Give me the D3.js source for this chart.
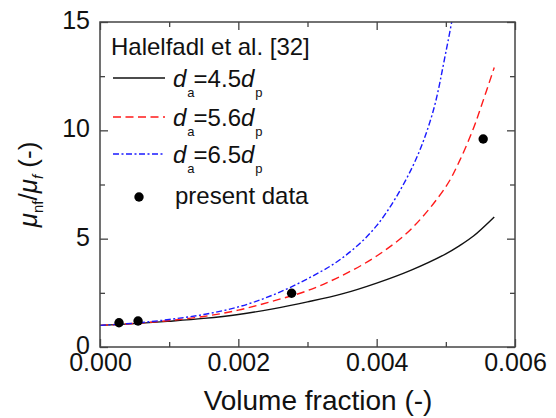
<!DOCTYPE html>
<html>
<head>
<meta charset="utf-8">
<script src="https://cdn.jsdelivr.net/npm/d3@7"></script>
<style>
  body { margin: 0; background: #fff; }
  svg { font-family: "Liberation Sans", Arial, sans-serif; }
</style>
</head>
<body>
<svg width="556" height="418"></svg>
<script>
// values
var blackPhi = [0, 0.0005, 0.001, 0.0015, 0.002, 0.0025, 0.003, 0.0035, 0.004, 0.0045, 0.005, 0.0052, 0.0054, 0.0057];
var blackMu  = [1.0, 1.08, 1.19, 1.32, 1.5, 1.76, 2.08, 2.45, 2.95, 3.55, 4.3, 4.68, 5.12, 6.0];
var redPhi = [0, 0.0005, 0.001, 0.0015, 0.002, 0.0025, 0.003, 0.0035, 0.004, 0.0045, 0.005, 0.0052, 0.0054, 0.0055, 0.0057];
var redMu  = [1.0, 1.09, 1.22, 1.41, 1.7, 2.12, 2.6, 3.3, 4.2, 5.45, 7.4, 8.6, 10.1, 11.0, 12.9];
var bluePhi = [0, 0.0005, 0.001, 0.0015, 0.002, 0.0025, 0.003, 0.0035, 0.004, 0.0045, 0.0048, 0.005, 0.0052];
var blueMu  = [1.0, 1.1, 1.27, 1.5, 1.85, 2.4, 3.15, 4.1, 5.6, 8.2, 10.7, 13.6, 17.0];
var dataPhi = [0.000275, 0.00055, 0.00277, 0.00554];
var dataMu  = [1.12, 1.2, 2.48, 9.6];
var xMajor = [0, 0.002, 0.004, 0.006];
var xMinor = [0.001, 0.003, 0.005];
var yMajor = [0, 5, 10, 15];
var yMinor = [2.5, 7.5, 12.5];

var margin = {top: 22, right: 41, bottom: 71, left: 100};
var width = 556 - margin.left - margin.right;
var height = 418 - margin.top - margin.bottom;

var svg = d3.select('svg');
var g = svg.append('g')
  .attr('transform', 'translate(' + margin.left + ',' + margin.top + ')');

var x = d3.scaleLinear().domain([0, 0.006]).range([0, width]);
var y = d3.scaleLinear().domain([0, 15]).range([height, 0]);

svg.append('defs').append('clipPath').attr('id', 'plotclip')
  .append('rect').attr('width', width).attr('height', height);

// axes, ticks pointing inward
function styleAxis(sel) {
  sel.select('.domain').remove();
  sel.selectAll('.tick line').attr('stroke', '#444').attr('stroke-width', 1.3);
}
g.append('g').attr('transform', 'translate(0,' + height + ')')
  .call(d3.axisBottom(x).tickValues(xMajor).tickSize(-8).tickPadding(6).tickFormat(d3.format('.3f')))
  .call(styleAxis);
g.append('g').attr('transform', 'translate(0,' + height + ')')
  .call(d3.axisBottom(x).tickValues(xMinor).tickSize(-5).tickFormat(''))
  .call(styleAxis);
g.append('g')
  .call(d3.axisTop(x).tickValues(xMajor).tickSize(-8).tickFormat(''))
  .call(styleAxis);
g.append('g')
  .call(d3.axisTop(x).tickValues(xMinor).tickSize(-5).tickFormat(''))
  .call(styleAxis);
g.append('g').attr('class', 'yaxis')
  .call(d3.axisLeft(y).tickValues(yMajor).tickSize(-8).tickPadding(10))
  .call(styleAxis);
g.append('g')
  .call(d3.axisLeft(y).tickValues(yMinor).tickSize(-5).tickFormat(''))
  .call(styleAxis);
g.append('g').attr('transform', 'translate(' + width + ',0)')
  .call(d3.axisRight(y).tickValues(yMajor).tickSize(-8).tickFormat(''))
  .call(styleAxis);
g.append('g').attr('transform', 'translate(' + width + ',0)')
  .call(d3.axisRight(y).tickValues(yMinor).tickSize(-5).tickFormat(''))
  .call(styleAxis);
g.selectAll('.tick text').attr('font-size', 25).attr('fill', '#111');
g.selectAll('.yaxis .tick text').attr('dy', '0.26em');

// curves
var line = d3.line()
  .x(function(d) { return x(d[0]); })
  .y(function(d) { return y(d[1]); })
  .curve(d3.curveCatmullRom.alpha(0.5));
var series = [
  {phi: blackPhi, mu: blackMu, color: '#111', dash: null},
  {phi: redPhi, mu: redMu, color: '#ff1a1a', dash: '8,4.5'},
  {phi: bluePhi, mu: blueMu, color: '#1a1aff', dash: '6,2.5,2,2.5'}
];
var curves = g.append('g').attr('clip-path', 'url(#plotclip)');
series.forEach(function(s) {
  curves.append('path')
    .datum(d3.zip(s.phi, s.mu))
    .attr('fill', 'none')
    .attr('stroke', s.color)
    .attr('stroke-width', 1.4)
    .attr('stroke-dasharray', s.dash)
    .attr('d', line);
});

g.selectAll('circle.pt')
  .data(d3.zip(dataPhi, dataMu))
  .enter().append('circle')
  .attr('class', 'pt')
  .attr('r', 4.7)
  .attr('cx', function(d) { return x(d[0]); })
  .attr('cy', function(d) { return y(d[1]); })
  .attr('fill', '#000');

// frame
g.append('rect')
  .attr('width', width).attr('height', height)
  .attr('fill', 'none').attr('stroke', '#444').attr('stroke-width', 1.5);

// legend
var legend = svg.append('g').attr('font-size', 24).attr('fill', '#111');
legend.append('text').attr('x', 111).attr('y', 55).text('Halelfadl et al. [32]');
var labels = ['4.5', '5.6', '6.5'];
var rowY = [78, 117, 154];
series.forEach(function(s, i) {
  legend.append('line')
    .attr('x1', 113).attr('x2', 165)
    .attr('y1', rowY[i]).attr('y2', rowY[i])
    .attr('stroke', s.color).attr('stroke-width', 1.4)
    .attr('stroke-dasharray', s.dash);
  var t = legend.append('text').attr('x', 173).attr('y', rowY[i] + 9);
  t.append('tspan').attr('font-style', 'italic').text('d');
  t.append('tspan').attr('font-size', 13).attr('dy', 10).attr('dx', 1).text('a');
  t.append('tspan').attr('dy', -10).attr('dx', -1).text('=' + labels[i]);
  t.append('tspan').attr('font-style', 'italic').text('d');
  t.append('tspan').attr('font-size', 13).attr('dy', 10).attr('dx', 1).text('p');
});
legend.append('circle').attr('cx', 139).attr('cy', 197).attr('r', 4.7).attr('fill', '#000');
legend.append('text').attr('x', 175).attr('y', 204).text('present data');

// axis titles
svg.append('text')
  .attr('x', 318).attr('y', 410)
  .attr('text-anchor', 'middle')
  .attr('font-size', 28).attr('fill', '#111')
  .text('Volume fraction (-)');

var yt = svg.append('text')
  .attr('transform', 'translate(37,' + (margin.top + height / 2) + ') rotate(-90)')
  .attr('text-anchor', 'middle')
  .attr('font-size', 26).attr('fill', '#111');
yt.append('tspan').attr('font-style', 'italic').text('\u03bc');
yt.append('tspan').attr('font-size', 15).attr('dy', 6).text('nf');
yt.append('tspan').attr('dy', -6).text('/');
yt.append('tspan').attr('font-style', 'italic').text('\u03bc');
yt.append('tspan').attr('font-size', 15).attr('dy', 6).attr('font-style', 'italic').text('f');
yt.append('tspan').attr('dy', -6).text(' (-)');
</script>
</body>
</html>
